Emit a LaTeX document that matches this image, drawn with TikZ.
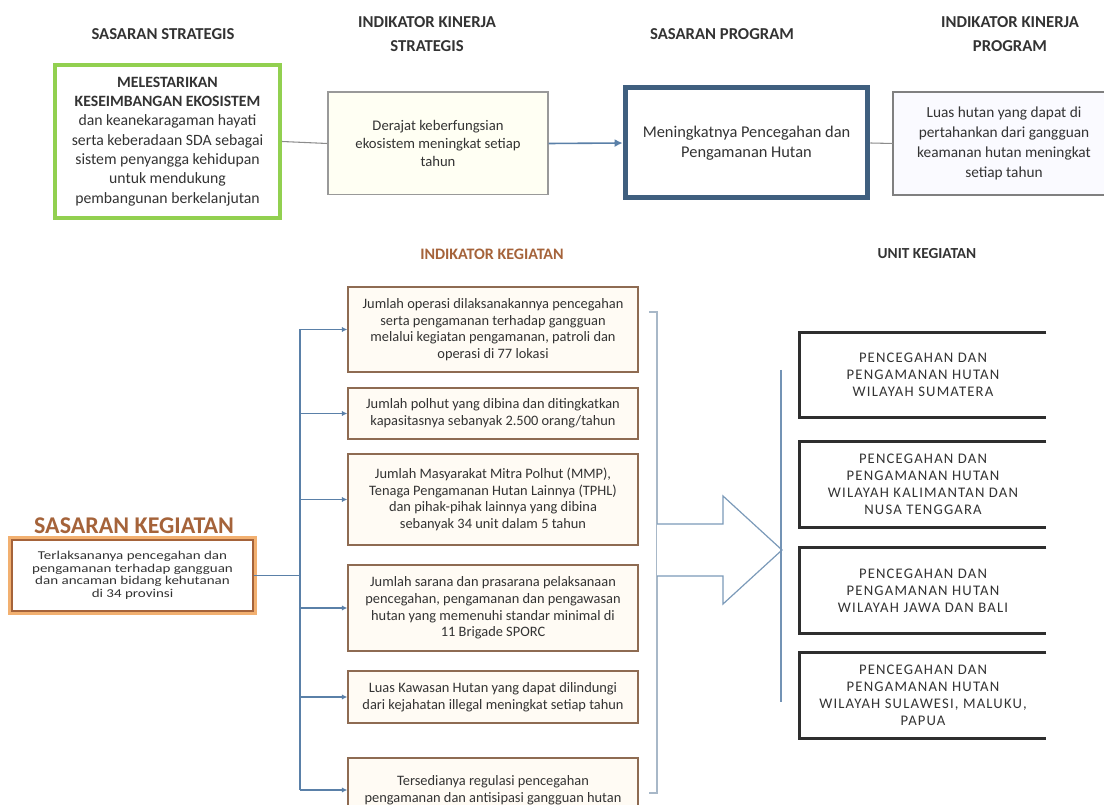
\documentclass[tikz,border=0pt]{standalone}
\usepackage{fontspec}
\setmainfont{Carlito}
\newfontfamily\skfont[FakeStretch=1.25]{Carlito}
\newfontfamily\unitfont[LetterSpace=8]{Carlito}
\usetikzlibrary{arrows.meta}

\definecolor{greenline}{HTML}{92D050}
\definecolor{navyline}{HTML}{3F5F7F}
\definecolor{steel}{HTML}{5A80A8}
\definecolor{palesteel}{HTML}{A8B8C8}
\definecolor{brownline}{HTML}{8E6B52}
\definecolor{ochre}{HTML}{A5633A}
\definecolor{glow}{HTML}{F2B070}
\definecolor{headgray}{HTML}{333333}
\definecolor{paleyellow}{HTML}{FFFFF3}
\definecolor{palepeach}{HTML}{FFFBF4}

\tikzset{
	hdr/.style={font=\bfseries\fontsize{12.5}{18.5}\selectfont, text=headgray, align=center},
	topbox/.style={align=center, inner sep=2pt, text=headgray},
	indbox/.style={draw=brownline, line width=1.1pt, fill=palepeach, align=center, minimum width=217.5pt, font=\fontsize{10.8}{12.5}\selectfont, text=headgray},
	unitbox/.style={minimum width=184.5pt, minimum height=63.75pt, align=center, font=\unitfont\fontsize{11}{12.75}\selectfont, text=headgray},
	unitline/.style={draw=black!82, line width=2.2pt},
	busline/.style={draw=steel, line width=1pt},
	busarrow/.style={busline, -{Latex[length=4pt,width=4pt]}},
	grayline/.style={draw=black!45, line width=0.8pt},
}

\begin{document}
\begin{tikzpicture}[x=0.75pt, y=-0.75pt]
		%%%%% START %%%%%
		\useasboundingbox (0,0) rectangle (1104,805);
		\clip (0,0) rectangle (1104,805);
		
		%%%%% headers %%%%%
		\node[hdr] (hss) at (163, 34) {SASARAN STRATEGIS};
		\node[hdr] (hiks) at (427, 34) {INDIKATOR KINERJA\\STRATEGIS};
		\node[hdr] (hsp) at (722, 34) {SASARAN PROGRAM};
		\node[hdr] (hikp) at (1010, 34) {INDIKATOR KINERJA\\PROGRAM};
		
		%%%%% top row %%%%%
		\node[topbox, draw=greenline, line width=3pt, fill=white, minimum width=168.75pt, minimum height=114.75pt, font=\fontsize{11.8}{14.5}\selectfont] (sastra) at (167.5, 141.5)
			{\textbf{MELESTARIKAN}\\\textbf{KESEIMBANGAN EKOSISTEM}\\dan keanekaragaman hayati\\serta keberadaan SDA sebagai\\sistem penyangga kehidupan\\untuk mendukung\\pembangunan berkelanjutan};
		\node[topbox, draw=black!40, line width=1pt, fill=paleyellow, minimum width=165pt, minimum height=77pt, font=\fontsize{11}{13.5}\selectfont] (ikstra) at (438, 143.5)
			{Derajat keberfungsian\\ekosistem meningkat setiap\\tahun};
		\node[topbox, draw=navyline, line width=3.75pt, fill=white, minimum width=182pt, minimum height=82.5pt, font=\fontsize{12.3}{15}\selectfont] (saspro) at (746.5, 143)
			{Meningkatnya Pencegahan dan\\Pengamanan Hutan};
		\node[topbox, fill=blue!2, minimum width=166pt, minimum height=77pt, font=\fontsize{11.5}{15}\selectfont] (ikpro) at (1004, 143.5)
			{Luas hutan yang dapat di\\pertahankan dari gangguan\\keamanan hutan meningkat\\setiap tahun};
		\draw[black!50, line width=1.1pt] (ikpro.north east) -- (ikpro.north west) -- (ikpro.south west) -- (ikpro.south east);
		
		\draw[grayline] (sastra.east) -- (ikstra.west);
		\draw[steel, line width=1.2pt, -{Latex[length=6pt,width=6pt]}] (ikstra.east) -- (saspro.west);
		\draw[grayline] (saspro.east) -- (ikpro.west);
		
		%%%%% lower headers %%%%%
		\node[font=\bfseries\fontsize{12}{14}\selectfont, text=ochre] (hik) at (492, 254) {INDIKATOR KEGIATAN};
		\node[font=\bfseries\fontsize{11.5}{14}\selectfont, text=headgray] (huk) at (927, 254) {UNIT KEGIATAN};
		\node[font=\bfseries\fontsize{18}{20}\selectfont, text=ochre] (hsk) at (134, 526) {SASARAN KEGIATAN};
		
		%%%%% sasaran kegiatan %%%%%
		\node[draw=glow, line width=3pt, minimum width=183.75pt, minimum height=56.25pt] (skglow) at (132.5, 575.5) {};
		\node[draw=ochre, line width=1.3pt, fill=white, minimum width=181pt, minimum height=53.5pt, align=center, text=headgray, font=\skfont\fontsize{9}{9.4}\selectfont] (sk) at (132.5, 575.5)
			{Terlaksananya pencegahan dan\\pengamanan terhadap gangguan\\dan ancaman bidang kehutanan\\di 34 provinsi};
		
		%%%%% indikator kegiatan %%%%%
		\node[indbox, minimum height=63.75pt] (ind1) at (493, 329.5)
			{Jumlah operasi dilaksanakannya pencegahan\\serta pengamanan terhadap gangguan\\melalui kegiatan pengamanan, patroli dan\\operasi di 77 lokasi};
		\node[indbox, minimum height=38.25pt] (ind2) at (493, 413.5)
			{Jumlah polhut yang dibina dan ditingkatkan\\kapasitasnya sebanyak 2.500 orang/tahun};
		\node[indbox, minimum height=68.25pt] (ind3) at (493, 499.5)
			{Jumlah Masyarakat Mitra Polhut (MMP),\\Tenaga Pengamanan Hutan Lainnya (TPHL)\\dan pihak-pihak lainnya yang dibina\\sebanyak 34 unit dalam 5 tahun};
		\node[indbox, minimum height=64.5pt] (ind4) at (493, 608)
			{Jumlah sarana dan prasarana pelaksanaan\\pencegahan, pengamanan dan pengawasan\\hutan yang memenuhi standar minimal di\\11 Brigade SPORC};
		\node[indbox, minimum height=39pt] (ind5) at (493, 697)
			{Luas Kawasan Hutan yang dapat dilindungi\\dari kejahatan illegal meningkat setiap tahun};
		\node[indbox, minimum height=48pt] (ind6) at (493, 790)
			{Tersedianya regulasi pencegahan\\pengamanan dan antisipasi gangguan hutan};
		
		%%%%% bus %%%%%
		\coordinate (bus) at (300, 575.5);
		\draw[busline] (sk.east) -- (bus);
		\draw[busline] (ind1.west -| bus) -- (ind6.west -| bus);
		\foreach \i in {1,...,6}
			\draw[busarrow] (ind\i.west -| bus) -- (ind\i.west);
		
		%%%%% bracket and big arrow %%%%%
		\coordinate (brtop) at (657, 312);
		\coordinate (brbot) at (657, 793);
		\draw[palesteel, line width=1.2pt] ([xshift=-6pt]brtop) -- (brtop) -- (brbot) -- ([xshift=-6pt]brbot);
		\draw[steel!80, line width=0.9pt, fill=white] (657, 524) -- (723, 524) -- (723, 496) -- (782, 550) -- (723, 604) -- (723, 576) -- (657, 576);
		\draw[steel!85, line width=1.6pt] (781, 370) -- (781, 702);
		
		%%%%% unit kegiatan %%%%%
		\node[unitbox] (unit1) at (923, 375)
			{PENCEGAHAN DAN\\PENGAMANAN HUTAN\\WILAYAH SUMATERA};
		\node[unitbox] (unit2) at (923, 484.5)
			{PENCEGAHAN DAN\\PENGAMANAN HUTAN\\WILAYAH KALIMANTAN DAN\\NUSA TENGGARA};
		\node[unitbox] (unit3) at (923, 590.5)
			{PENCEGAHAN DAN\\PENGAMANAN HUTAN\\WILAYAH JAWA DAN BALI};
		\node[unitbox] (unit4) at (923, 695.5)
			{PENCEGAHAN DAN\\PENGAMANAN HUTAN\\WILAYAH SULAWESI, MALUKU,\\PAPUA};
		\foreach \i in {1,...,4}
			\draw[unitline] (unit\i.north east) -- (unit\i.north west) -- (unit\i.south west) -- (unit\i.south east);
		
		%%%%% END %%%%%
	\end{tikzpicture}
\end{document}
